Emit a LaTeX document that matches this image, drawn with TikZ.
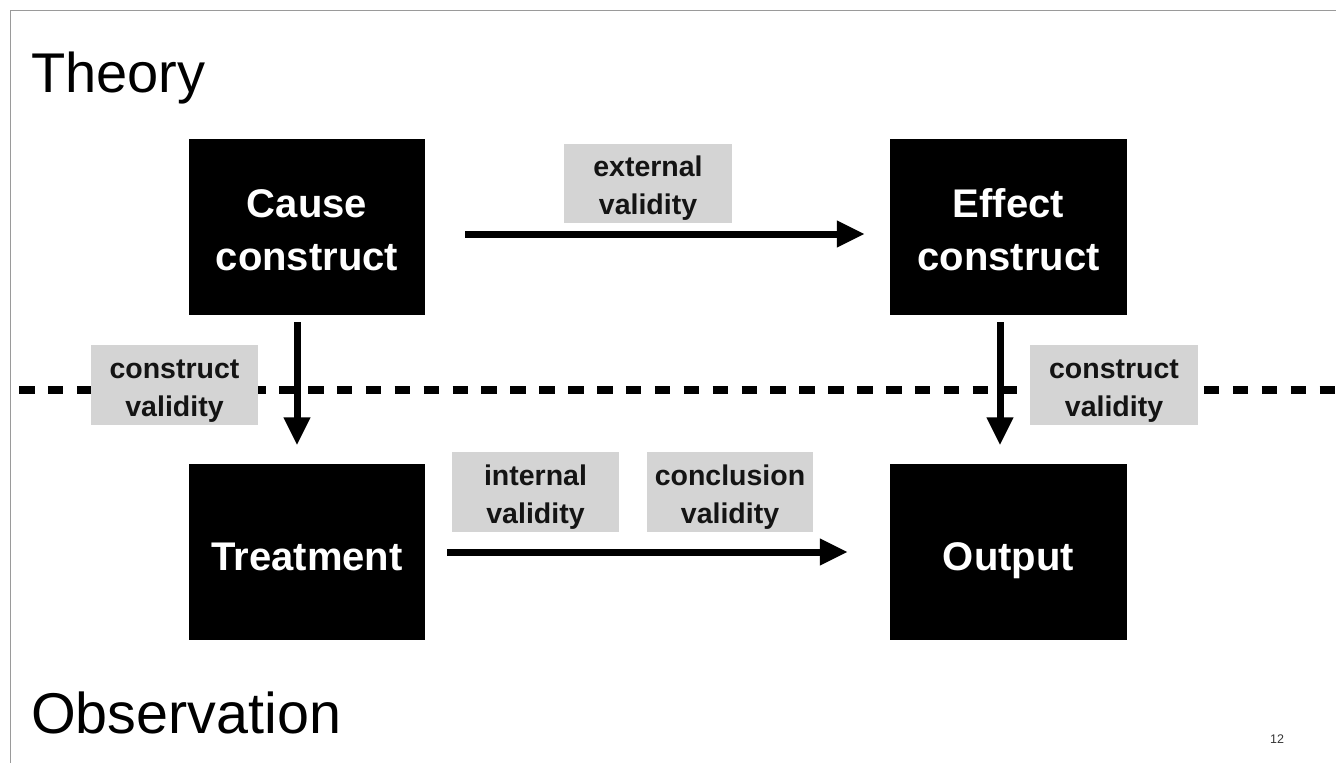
\documentclass[tikz,border=0pt]{standalone}
\usepackage{fontspec}
\setmainfont{Liberation Sans}
\usetikzlibrary{arrows.meta}
\definecolor{labelgray}{HTML}{D4D4D4}
\definecolor{framegray}{HTML}{9A9A9A}
\begin{document}
\begin{tikzpicture}[x=1pt,y=-1pt,
  % text height/depth are measured from the baseline of the last line
  block/.style={fill=black, text=white, minimum width=236pt, minimum height=176pt,
    inner sep=0pt, align=center, font=\fontsize{40}{53}\selectfont\bfseries,
    text height=86pt, text depth=0pt},
  oneline/.style={text height=37pt, text depth=0pt},
  tag/.style={fill=labelgray, text=black!92, inner sep=0pt, minimum height=80pt,
    align=center, font=\fontsize{28.5}{38}\selectfont\bfseries,
    text height=62pt, text depth=0pt},
  heading/.style={anchor=base west, inner sep=0pt},
  flow/.style={line width=7pt, -{Triangle[length=28pt,width=25pt]}},
  divider/.style={line width=8pt, dash pattern=on 15.5pt off 13.4pt}
]
\useasboundingbox (0,0) rectangle (1336,763);

% slide frame
\draw[framegray, line width=1pt] (10,763) -- (10,10) -- (1336,10);

% level headings
\node[heading, font=\fontsize{56}{60}\selectfont] (theory) at (31,92) {Theory};
\node[heading, font=\fontsize{57.5}{60}\selectfont] (observation) at (31,733) {Observation};
\node[anchor=base, inner sep=0pt, text=black!80, font=\fontsize{12.5}{14}\selectfont] (pagenum) at (1277,743) {12};

% boundary between theory and observation
\coordinate (divL) at (19,390);
\coordinate (divR) at (1336,390);
\draw[divider] (divL) -- (divR);

% constructs and their operationalisations
\node[block] (cause) at (307,227) {Cause\\construct};
\node[block, minimum width=237pt] (effect) at (1008.5,227) {Effect\\construct};
\node[block, oneline] (treat) at (307,551.5) {Treatment};
\node[block, oneline, minimum width=237pt] (out) at (1008.5,551.5) {Output};

% validity labels
\node[tag, minimum width=168pt, minimum height=79pt] (external) at (648,183.5) {external\\validity};
\node[tag, minimum width=167pt] (internal) at (535.5,492) {internal\\validity};
\node[tag, minimum width=166pt] (conclusion) at (730,492) {conclusion\\validity};
\node[tag, minimum width=167pt] (constrL) at (174.5,385) {construct\\validity};
\node[tag, minimum width=168pt] (constrR) at (1114,385) {construct\\validity};

% relations
\draw[flow, shorten <=40pt, shorten >=25pt]
  ([yshift=-7pt]cause.east) -- ([yshift=-7pt]effect.west);
\draw[flow, shorten <=22pt, shorten >=42pt]
  ([yshift=-0.5pt]treat.east) -- ([yshift=-0.5pt]out.west);
\draw[flow, shorten <=7pt, shorten >=18pt]
  ([xshift=-10pt]cause.south) -- ([xshift=-10pt]treat.north);
\draw[flow, shorten <=7pt, shorten >=18pt]
  ([xshift=-8.5pt]effect.south) -- ([xshift=-8.5pt]out.north);
\end{tikzpicture}
\end{document}
